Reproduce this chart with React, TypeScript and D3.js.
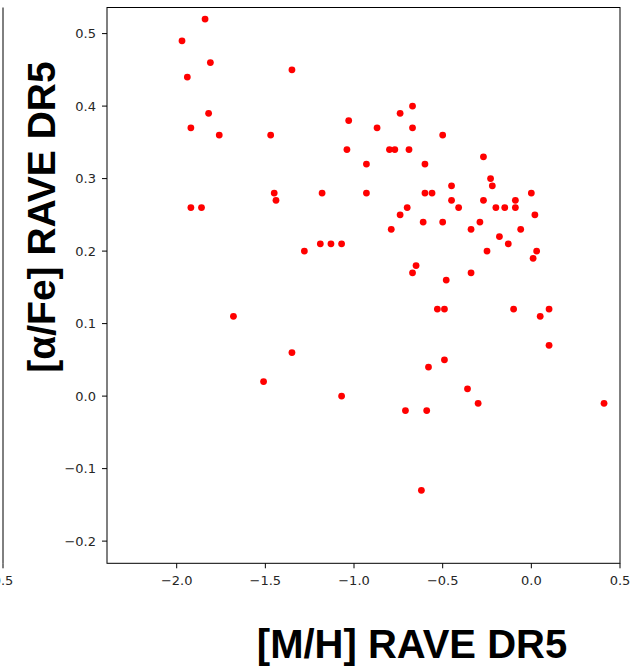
import React from "react";
import * as d3 from "d3";

const mh = [
  -1.84, -1.97, -1.81, -1.94, -1.35, -1.82, -1.92, -1.76, -1.47, -1.03,
  -1.04, -1.45, -1.44, -1.18, -1.92, -1.86, -0.67, -0.74, -0.87, -0.67,
  -0.5, -0.8, -0.77, -0.69, -0.93, -0.6, -0.27, -0.23, -0.22, -0.45,
  -0.93, -0.6, -0.56, 0.0, -0.45, -0.27, -0.09, -0.7, -0.41, -0.2,
  -0.15, -0.09, -0.74, 0.02, -0.61, -0.5, -0.29, -0.79, -0.34, -0.06,
  -0.18, -1.19, -1.13, -1.07, -0.13, -1.28, -0.25, 0.03, 0.01, -0.65,
  -0.67, -0.34, -0.48, -1.68, -0.53, -0.49, -0.1, 0.1, 0.05, 0.1,
  -1.35, -0.49, -0.58, -1.51, -0.36, -1.07, -0.3, 0.41, -0.71, -0.59,
  -0.62,
];
const alphaFe = [
  0.52, 0.49, 0.46, 0.44, 0.45, 0.39, 0.37, 0.36, 0.36, 0.38,
  0.34, 0.28, 0.27, 0.28, 0.26, 0.26, 0.4, 0.39, 0.37, 0.37,
  0.36, 0.34, 0.34, 0.34, 0.32, 0.32, 0.33, 0.3, 0.29, 0.29,
  0.28, 0.28, 0.28, 0.28, 0.27, 0.27, 0.27, 0.26, 0.26, 0.26,
  0.26, 0.26, 0.25, 0.25, 0.24, 0.24, 0.24, 0.23, 0.23, 0.23,
  0.22, 0.21, 0.21, 0.21, 0.21, 0.2, 0.2, 0.2, 0.19, 0.18,
  0.17, 0.17, 0.16, 0.11, 0.12, 0.12, 0.12, 0.12, 0.11, 0.07,
  0.06, 0.05, 0.04, 0.02, 0.01, 0.0, -0.01, -0.01, -0.02, -0.02,
  -0.13,
];
const xTicks = [-2.0, -1.5, -1.0, -0.5, 0.0, 0.5];
const yTicks = [-0.2, -0.1, 0.0, 0.1, 0.2, 0.3, 0.4, 0.5];
const xDomain = [-2.393, 0.5];
const yDomain = [-0.2306, 0.536];

const fmt = (v: number) => d3.format(".1f")(v).replace("-", "\u2212");

export default function App() {
  const W = 639;
  const H = 666;
  const left = 107, right = 620, top = 7.5, bottom = 563.3;
  const x = d3.scaleLinear().domain(xDomain).range([left, right]);
  const y = d3.scaleLinear().domain(yDomain).range([bottom, top]);
  const tickFont = "DejaVu Sans, sans-serif";
  return (
    <svg width={W} height={H} style={{ position: "absolute", left: 0, top: 0 }}>
      <rect x={0} y={0} width={W} height={H} fill="#fff" />
      {/* partial neighbouring subplot */}
      <line x1={3} x2={3} y1={top} y2={bottom} stroke="#000" strokeWidth={1} />
      <line x1={3} x2={3} y1={bottom} y2={bottom + 5} stroke="#000" strokeWidth={1} />
      <text x={3} y={585} textAnchor="middle" fontFamily={tickFont} fontSize={13} fill="#262626">
        0.5
      </text>
      {/* points */}
      {mh.map((v, i) => (
        <circle key={i} cx={x(v)} cy={y(alphaFe[i])} r={3.4} fill="#ff0000" />
      ))}
      {/* frame */}
      <rect x={left} y={top} width={right - left} height={bottom - top} fill="none" stroke="#000" strokeWidth={1} />
      {/* x ticks */}
      {xTicks.map((t) => (
        <g key={"x" + t}>
          <line x1={x(t)} x2={x(t)} y1={bottom} y2={bottom + 5} stroke="#000" strokeWidth={1} />
          <text x={x(t)} y={585} textAnchor="middle" fontFamily={tickFont} fontSize={13} fill="#262626">
            {fmt(t)}
          </text>
        </g>
      ))}
      {/* y ticks */}
      {yTicks.map((t) => (
        <g key={"y" + t}>
          <line x1={left - 5} x2={left} y1={y(t)} y2={y(t)} stroke="#000" strokeWidth={1} />
          <text x={96} y={y(t)} dy="0.35em" textAnchor="end" fontFamily={tickFont} fontSize={13} fill="#262626">
            {fmt(t)}
          </text>
        </g>
      ))}
      {/* axis labels */}
      <text x={412} y={658} textAnchor="middle" fontFamily="Liberation Sans, Arial, sans-serif" fontWeight="bold" fontSize={40} fill="#000">
        [M/H] RAVE DR5
      </text>
      <text transform="translate(55,217) rotate(-90)" textAnchor="middle" fontFamily="Liberation Sans, Arial, sans-serif" fontWeight="bold" fontSize={39} fill="#000">
        [α/Fe] RAVE DR5
      </text>
    </svg>
  );
}
